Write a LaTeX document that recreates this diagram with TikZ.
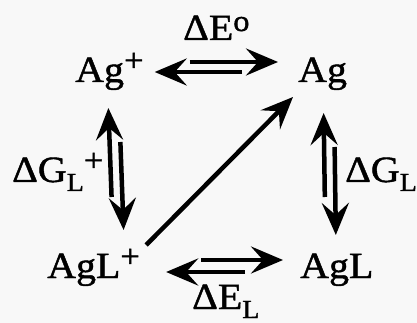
\documentclass[tikz,border=0pt]{standalone}
\usepackage{fontspec}
\setmainfont{Liberation Serif}[FakeStretch=1.08, FakeBold=1.2]
\usepackage{tikz}
\usetikzlibrary{arrows.meta}
\definecolor{paper}{RGB}{248, 248, 248}
\newcommand{\supsign}[1]{\raisebox{11pt}{\fontsize{32}{32}\selectfont #1}}
\newcommand{\supo}[1]{\raisebox{9pt}{\fontsize{30}{30}\selectfont #1}}
\newcommand{\lowsub}[1]{\raisebox{-9pt}{\fontsize{26}{26}\selectfont #1}}

\begin{document}
\begin{tikzpicture}[x=1pt, y=-1pt,
  species/.style={inner sep=0, anchor=base west, font=\fontsize{37}{42}\selectfont},
  eqarrow/.style={line width=4.5pt, -{Stealth[length=32pt, width=27pt, inset=12pt]}}]
\fill[paper] (0,0) rectangle (417,323);
\useasboundingbox (0,0) rectangle (417,323);
% species
\node[species] (agp) at (75,82) {Ag\supsign{+}};
\node[species] (ag) at (298,82) {Ag};
\node[species] (aglp) at (47,278) {AgL\supsign{+}};
\node[species] (agl) at (300,278) {AgL};
% labels
\node[species] (dE) at (183,40) {ΔE\supo{o}};
\node[species] (dGLp) at (12,182) {ΔG\lowsub{L}\supsign{+}};
\node[species] (dGL) at (345,182) {ΔG\lowsub{L}};
\node[species] (dEL) at (192,309) {ΔE\lowsub{L}};
% top pair
\draw[eqarrow, shorten <=46pt, shorten >=20pt] ([yshift=20pt]agp.base east) -- ([yshift=20pt]ag.base west);
\draw[eqarrow, shorten <=56pt, shorten >=11pt] ([yshift=10pt]ag.base west) -- ([yshift=10pt]agp.base east);
% bottom pair
\draw[eqarrow, shorten <=61pt, shorten >=17pt] ([yshift=18pt]aglp.base east) -- ([yshift=18pt]agl.base west);
\draw[eqarrow, shorten <=55pt, shorten >=26pt] ([yshift=6pt]agl.base west) -- ([yshift=6pt]aglp.base east);
% left pair
\draw[eqarrow] ([xshift=18pt, yshift=81pt]aglp.base) -- ([xshift=-1pt, yshift=-26pt]agp.base);
\draw[eqarrow] ([xshift=11pt, yshift=-60pt]agp.base) -- ([xshift=30pt, yshift=48pt]aglp.base);
% right pair
\draw[eqarrow] ([xshift=-12pt, yshift=81pt]agl.base) -- ([xshift=1pt, yshift=-31pt]ag.base);
\draw[eqarrow] ([xshift=12pt, yshift=-65pt]ag.base) -- ([xshift=-1pt, yshift=43pt]agl.base);
% diagonal
\draw[eqarrow] ([xshift=6pt, yshift=33pt]aglp.base east) -- ([xshift=-5pt, yshift=-15pt]ag.base west);
\end{tikzpicture}
\end{document}
